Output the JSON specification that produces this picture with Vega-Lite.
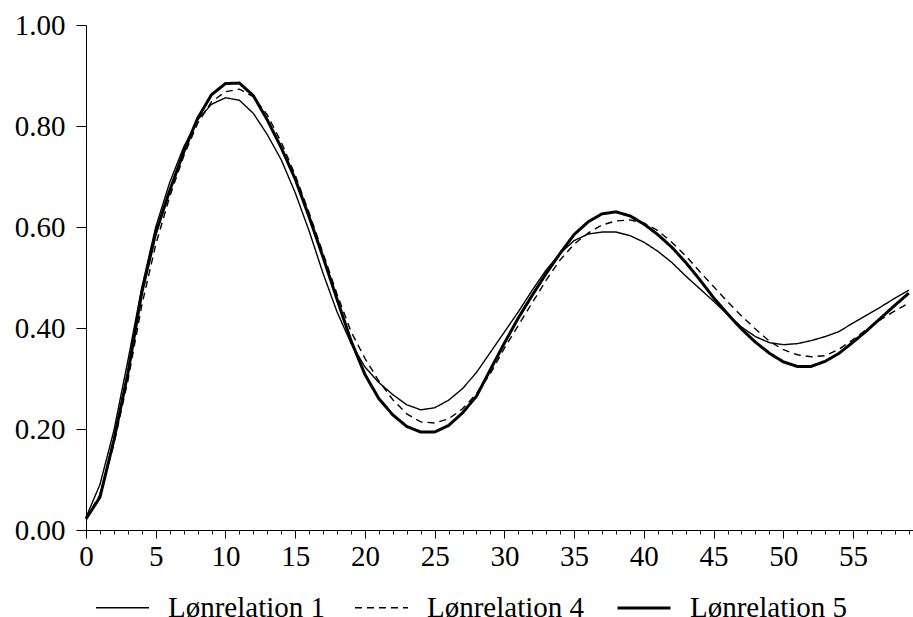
{
  "$schema": "https://vega.github.io/schema/vega-lite/v6.json",
  "width": 827,
  "height": 505,
  "autosize": {"type": "none"},
  "padding": {"left": 86, "top": 25, "right": 0, "bottom": 87},
  "background": "white",
  "data": {
    "values": [
      {"t": 0, "Lønrelation 1": 0.025, "Lønrelation 4": 0.022, "Lønrelation 5": 0.022},
      {"t": 1, "Lønrelation 1": 0.090, "Lønrelation 4": 0.070, "Lønrelation 5": 0.065},
      {"t": 2, "Lønrelation 1": 0.197, "Lønrelation 4": 0.170, "Lønrelation 5": 0.178},
      {"t": 3, "Lønrelation 1": 0.335, "Lønrelation 4": 0.295, "Lønrelation 5": 0.310},
      {"t": 4, "Lønrelation 1": 0.480, "Lønrelation 4": 0.445, "Lønrelation 5": 0.470},
      {"t": 5, "Lønrelation 1": 0.600, "Lønrelation 4": 0.565, "Lønrelation 5": 0.588},
      {"t": 6, "Lønrelation 1": 0.688, "Lønrelation 4": 0.660, "Lønrelation 5": 0.672},
      {"t": 7, "Lønrelation 1": 0.758, "Lønrelation 4": 0.740, "Lønrelation 5": 0.748},
      {"t": 8, "Lønrelation 1": 0.812, "Lønrelation 4": 0.805, "Lønrelation 5": 0.815},
      {"t": 9, "Lønrelation 1": 0.843, "Lønrelation 4": 0.848, "Lønrelation 5": 0.862},
      {"t": 10, "Lønrelation 1": 0.856, "Lønrelation 4": 0.868, "Lønrelation 5": 0.884},
      {"t": 11, "Lønrelation 1": 0.851, "Lønrelation 4": 0.873, "Lønrelation 5": 0.885},
      {"t": 12, "Lønrelation 1": 0.825, "Lønrelation 4": 0.858, "Lønrelation 5": 0.860},
      {"t": 13, "Lønrelation 1": 0.783, "Lønrelation 4": 0.822, "Lønrelation 5": 0.812},
      {"t": 14, "Lønrelation 1": 0.733, "Lønrelation 4": 0.768, "Lønrelation 5": 0.757},
      {"t": 15, "Lønrelation 1": 0.668, "Lønrelation 4": 0.703, "Lønrelation 5": 0.695},
      {"t": 16, "Lønrelation 1": 0.592, "Lønrelation 4": 0.628, "Lønrelation 5": 0.620},
      {"t": 17, "Lønrelation 1": 0.508, "Lønrelation 4": 0.548, "Lønrelation 5": 0.540},
      {"t": 18, "Lønrelation 1": 0.432, "Lønrelation 4": 0.467, "Lønrelation 5": 0.457},
      {"t": 19, "Lønrelation 1": 0.370, "Lønrelation 4": 0.393, "Lønrelation 5": 0.375},
      {"t": 20, "Lønrelation 1": 0.323, "Lønrelation 4": 0.340, "Lønrelation 5": 0.308},
      {"t": 21, "Lønrelation 1": 0.292, "Lønrelation 4": 0.295, "Lønrelation 5": 0.260},
      {"t": 22, "Lønrelation 1": 0.268, "Lønrelation 4": 0.258, "Lønrelation 5": 0.228},
      {"t": 23, "Lønrelation 1": 0.248, "Lønrelation 4": 0.230, "Lønrelation 5": 0.205},
      {"t": 24, "Lønrelation 1": 0.238, "Lønrelation 4": 0.214, "Lønrelation 5": 0.194},
      {"t": 25, "Lønrelation 1": 0.242, "Lønrelation 4": 0.212, "Lønrelation 5": 0.194},
      {"t": 26, "Lønrelation 1": 0.257, "Lønrelation 4": 0.220, "Lønrelation 5": 0.207},
      {"t": 27, "Lønrelation 1": 0.280, "Lønrelation 4": 0.240, "Lønrelation 5": 0.232},
      {"t": 28, "Lønrelation 1": 0.312, "Lønrelation 4": 0.270, "Lønrelation 5": 0.265},
      {"t": 29, "Lønrelation 1": 0.352, "Lønrelation 4": 0.310, "Lønrelation 5": 0.318},
      {"t": 30, "Lønrelation 1": 0.392, "Lønrelation 4": 0.360, "Lønrelation 5": 0.370},
      {"t": 31, "Lønrelation 1": 0.432, "Lønrelation 4": 0.405, "Lønrelation 5": 0.420},
      {"t": 32, "Lønrelation 1": 0.475, "Lønrelation 4": 0.450, "Lønrelation 5": 0.465},
      {"t": 33, "Lønrelation 1": 0.515, "Lønrelation 4": 0.495, "Lønrelation 5": 0.508},
      {"t": 34, "Lønrelation 1": 0.548, "Lønrelation 4": 0.535, "Lønrelation 5": 0.548},
      {"t": 35, "Lønrelation 1": 0.573, "Lønrelation 4": 0.566, "Lønrelation 5": 0.585},
      {"t": 36, "Lønrelation 1": 0.586, "Lønrelation 4": 0.588, "Lønrelation 5": 0.610},
      {"t": 37, "Lønrelation 1": 0.590, "Lønrelation 4": 0.604, "Lønrelation 5": 0.626},
      {"t": 38, "Lønrelation 1": 0.590, "Lønrelation 4": 0.612, "Lønrelation 5": 0.630},
      {"t": 39, "Lønrelation 1": 0.583, "Lønrelation 4": 0.614, "Lønrelation 5": 0.622},
      {"t": 40, "Lønrelation 1": 0.570, "Lønrelation 4": 0.608, "Lønrelation 5": 0.606},
      {"t": 41, "Lønrelation 1": 0.552, "Lønrelation 4": 0.593, "Lønrelation 5": 0.585},
      {"t": 42, "Lønrelation 1": 0.530, "Lønrelation 4": 0.570, "Lønrelation 5": 0.560},
      {"t": 43, "Lønrelation 1": 0.503, "Lønrelation 4": 0.543, "Lønrelation 5": 0.530},
      {"t": 44, "Lønrelation 1": 0.478, "Lønrelation 4": 0.512, "Lønrelation 5": 0.496},
      {"t": 45, "Lønrelation 1": 0.453, "Lønrelation 4": 0.482, "Lønrelation 5": 0.460},
      {"t": 46, "Lønrelation 1": 0.427, "Lønrelation 4": 0.452, "Lønrelation 5": 0.428},
      {"t": 47, "Lønrelation 1": 0.402, "Lønrelation 4": 0.424, "Lønrelation 5": 0.398},
      {"t": 48, "Lønrelation 1": 0.383, "Lønrelation 4": 0.398, "Lønrelation 5": 0.372},
      {"t": 49, "Lønrelation 1": 0.371, "Lønrelation 4": 0.374, "Lønrelation 5": 0.350},
      {"t": 50, "Lønrelation 1": 0.367, "Lønrelation 4": 0.357, "Lønrelation 5": 0.333},
      {"t": 51, "Lønrelation 1": 0.369, "Lønrelation 4": 0.347, "Lønrelation 5": 0.324},
      {"t": 52, "Lønrelation 1": 0.375, "Lønrelation 4": 0.343, "Lønrelation 5": 0.324},
      {"t": 53, "Lønrelation 1": 0.383, "Lønrelation 4": 0.345, "Lønrelation 5": 0.334},
      {"t": 54, "Lønrelation 1": 0.393, "Lønrelation 4": 0.358, "Lønrelation 5": 0.350},
      {"t": 55, "Lønrelation 1": 0.410, "Lønrelation 4": 0.377, "Lønrelation 5": 0.372},
      {"t": 56, "Lønrelation 1": 0.426, "Lønrelation 4": 0.398, "Lønrelation 5": 0.395},
      {"t": 57, "Lønrelation 1": 0.442, "Lønrelation 4": 0.417, "Lønrelation 5": 0.420},
      {"t": 58, "Lønrelation 1": 0.459, "Lønrelation 4": 0.434, "Lønrelation 5": 0.445},
      {"t": 59, "Lønrelation 1": 0.475, "Lønrelation 4": 0.449, "Lønrelation 5": 0.469}
    ]
  },
  "transform": [
    {"fold": ["Lønrelation 1", "Lønrelation 4", "Lønrelation 5"], "as": ["serie", "verdi"]}
  ],
  "layer": [
    {
      "mark": {"type": "line", "opacity": 0},
      "encoding": {
        "x": {
          "field": "t", "type": "quantitative",
          "scale": {"domain": [0, 59.3], "nice": false, "zero": false},
          "axis": {
            "orient": "bottom",
            "values": [0,1,2,3,4,5,6,7,8,9,10,11,12,13,14,15,16,17,18,19,20,21,22,23,24,25,26,27,28,29,30,31,32,33,34,35,36,37,38,39,40,41,42,43,44,45,46,47,48,49,50,51,52,53,54,55,56,57,58,59],
            "labels": false, "domain": false, "grid": false,
            "tickSize": 4, "tickColor": "black", "tickWidth": 1, "title": null
          }
        },
        "y": {
          "field": "verdi", "type": "quantitative",
          "scale": {"domain": [0, 1], "nice": false},
          "axis": {
            "orient": "left",
            "values": [0, 0.2, 0.4, 0.6, 0.8, 1.0],
            "format": ".2f",
            "grid": false, "domain": true, "domainColor": "black", "domainWidth": 1,
            "tickSize": 10, "tickColor": "black", "tickWidth": 1,
            "labelFont": "Liberation Serif", "labelFontSize": 29, "labelColor": "black",
            "labelPadding": 11, "labelFlush": false, "labelOverlap": false, "title": null
          }
        },
        "detail": {"field": "serie"}
      }
    },
    {
      "mark": {"type": "line", "interpolate": "linear"},
      "encoding": {
        "x": {
          "field": "t", "type": "quantitative",
          "scale": {"domain": [0, 59.3], "nice": false, "zero": false},
          "axis": {
            "orient": "bottom",
            "values": [0,5,10,15,20,25,30,35,40,45,50,55],
            "grid": false, "domain": true, "domainColor": "black", "domainWidth": 1,
            "tickSize": 8, "tickColor": "black", "tickWidth": 1,
            "labelFont": "Liberation Serif", "labelFontSize": 29, "labelColor": "black",
            "labelPadding": 4, "labelFlush": false, "labelOverlap": false, "title": null
          }
        },
        "y": {
          "field": "verdi", "type": "quantitative",
          "scale": {"domain": [0, 1], "nice": false},
          "axis": {
            "orient": "left",
            "values": [0, 0.2, 0.4, 0.6, 0.8, 1.0],
            "format": ".2f",
            "grid": false, "domain": true, "domainColor": "black", "domainWidth": 1,
            "tickSize": 10, "tickColor": "black", "tickWidth": 1,
            "labelFont": "Liberation Serif", "labelFontSize": 29, "labelColor": "black",
            "labelPadding": 11, "labelFlush": false, "labelOverlap": false, "title": null
          }
        },
        "color": {
          "field": "serie", "type": "nominal",
          "scale": {"domain": ["Lønrelation 1", "Lønrelation 4", "Lønrelation 5"], "range": ["black", "black", "black"]},
          "legend": {
            "orient": "none", "legendX": 9, "legendY": 555, "direction": "horizontal",
            "title": null, "symbolType": "stroke", "symbolSize": 2809,
            "labelFont": "Liberation Serif", "labelFontSize": 29, "labelColor": "black",
            "labelOffset": 18, "columnPadding": 26, "padding": 0, "labelLimit": 400
          }
        },
        "strokeDash": {
          "field": "serie", "type": "nominal",
          "scale": {"domain": ["Lønrelation 1", "Lønrelation 4", "Lønrelation 5"], "range": [[1, 0], [7, 5], [1, 0]]}
        },
        "strokeWidth": {
          "field": "serie", "type": "nominal",
          "scale": {"type": "ordinal", "domain": ["Lønrelation 1", "Lønrelation 4", "Lønrelation 5"], "range": [1.4, 1.4, 3]}
        }
      }
    }
  ],
  "resolve": {"axis": {"x": "independent"}},
  "config": {
    "view": {"stroke": null},
    "legend": {
      "orient": "none", "legendX": 9, "legendY": 555, "direction": "horizontal",
      "symbolType": "stroke", "symbolSize": 2809,
      "labelFont": "Liberation Serif", "labelFontSize": 29, "labelColor": "black",
      "labelOffset": 18, "columnPadding": 26, "padding": 0, "labelLimit": 400
    }
  }
}
